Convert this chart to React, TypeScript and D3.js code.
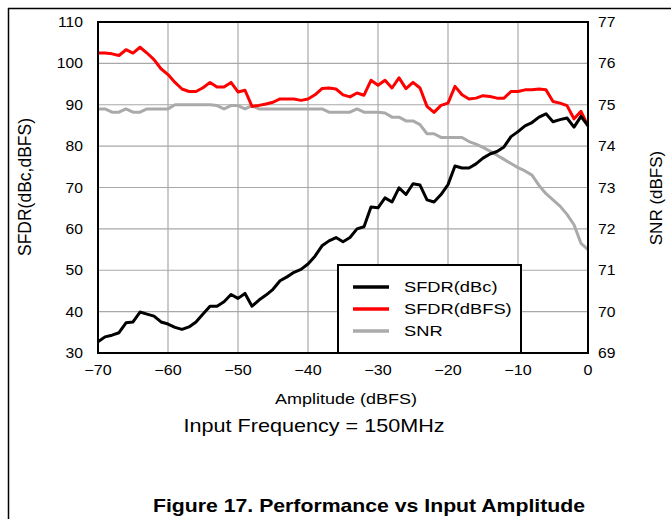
import React from "react";
import * as d3 from "d3";

const amplitude = [
  -70, -69, -68, -67, -66, -65, -64, -63, -62, -61, -60, -59, -58, -57, -56, -55, -54, -53,
  -52, -51, -50, -49, -48, -47, -46, -45, -44, -43, -42, -41, -40, -39, -38, -37, -36, -35,
  -34, -33, -32, -31, -30, -29, -28, -27, -26, -25, -24, -23, -22, -21, -20, -19, -18, -17,
  -16, -15, -14, -13, -12, -11, -10, -9, -8, -7, -6, -5, -4, -3, -2, -1, 0,
];

const sfdrDbc = [
  32.7, 33.9, 34.3, 34.9, 37.3, 37.5, 39.9, 39.4, 38.9, 37.5, 37.0, 36.2, 35.7, 36.3, 37.5, 39.4, 41.3, 41.3,
  42.4, 44.15, 43.2, 44.4, 41.3, 42.8, 44.0, 45.4, 47.45, 48.4, 49.5, 50.2, 51.5, 53.4, 55.9, 57.1, 57.9, 56.9,
  57.9, 60.0, 60.5, 65.3, 65.1, 67.5, 66.5, 69.9, 68.3, 70.9, 70.6, 67.0, 66.5, 68.3, 70.7, 75.2, 74.7, 74.7,
  75.7, 77.1, 78.1, 78.7, 79.8, 82.3, 83.5, 84.9, 85.7, 87.0, 87.8, 85.9, 86.4, 86.8, 84.6, 87.2, 84.9,
];

const sfdrDbfs = [
  102.5, 102.5, 102.3, 101.9, 103.3, 102.5, 103.9, 102.5, 100.9, 98.7, 97.3, 95.4, 93.8, 93.2, 93.2, 94.1, 95.4, 94.3,
  94.3, 95.4, 93.1, 93.5, 89.6, 89.85, 90.2, 90.6, 91.4, 91.4, 91.4, 91.05, 91.4, 92.4, 93.9, 94.05, 93.8, 92.4,
  91.9, 92.85, 92.3, 95.9, 94.7, 95.9, 94.05, 96.5, 93.9, 95.4, 94.05, 89.6, 88.15, 89.85, 90.4, 94.45, 92.4, 91.4,
  91.6, 92.2, 92.0, 91.6, 91.6, 93.2, 93.2, 93.6, 93.6, 93.8, 93.6, 90.8, 90.4, 89.8, 86.6, 88.4, 84.9,
];

const snr = [
  74.9, 74.9, 74.82, 74.82, 74.9, 74.82, 74.82, 74.9, 74.9, 74.9, 74.9, 75.0, 75.0, 75.0, 75.0, 75.0, 75.0, 74.98,
  74.9, 74.98, 74.98, 74.9, 74.98, 74.9, 74.9, 74.9, 74.9, 74.9, 74.9, 74.9, 74.9, 74.9, 74.9, 74.82, 74.82, 74.82,
  74.82, 74.9, 74.82, 74.82, 74.82, 74.8, 74.7, 74.7, 74.61, 74.61, 74.52, 74.3, 74.3, 74.21, 74.21, 74.21, 74.21, 74.11,
  74.05, 73.97, 73.88, 73.78, 73.68, 73.58, 73.48, 73.4, 73.3, 73.05, 72.85, 72.7, 72.55, 72.35, 72.1, 71.65, 71.5,
];

const xTicks = [-70, -60, -50, -40, -30, -20, -10, 0];
const yLeftTicks = [30, 40, 50, 60, 70, 80, 90, 100, 110];
const yRightTicks = [69, 70, 71, 72, 73, 74, 75, 76, 77];

const seriesNames = ["SFDR(dBc)", "SFDR(dBFS)", "SNR"];
const seriesColors = ["#000000", "#ff0000", "#aaaaaa"];

const FONT = "Arial, 'Liberation Sans', sans-serif";
const SX = 1.2;

function T(props: any) {
  const { x, y, anchor = "start", size = 14, weight = "normal", rotate = 0, sx = SX, children } = props;
  const tr = `translate(${x},${y}) scale(${sx},1)` + (rotate ? ` rotate(${rotate})` : "");
  return (
    <text transform={tr} textAnchor={anchor} fontSize={size} fontWeight={weight} fontFamily={FONT} fill="#000">
      {children}
    </text>
  );
}

export default function App() {
  const W = 671;
  const H = 519;
  const left = 98, right = 588, top = 22, bottom = 353;
  const x = d3.scaleLinear().domain([-70, 0]).range([left, right]);
  const yL = d3.scaleLinear().domain([30, 110]).range([bottom, top]);
  const yR = d3.scaleLinear().domain([69, 77]).range([bottom, top]);

  const lineL = d3
    .line<number>()
    .x((_, i) => x(amplitude[i]))
    .y((d) => yL(d));
  const lineR = d3
    .line<number>()
    .x((_, i) => x(amplitude[i]))
    .y((d) => yR(d));

  const fmt = (v: number) => (v < 0 ? "\u2212" + Math.abs(v) : String(v));

  const legX = 338, legY = 265, legW = 183, legH = 88;

  return (
    <div style={{ position: "absolute", left: 0, top: 0 }}>
      <svg width={W} height={H} style={{ display: "block", background: "#fff" }}>
        <rect x={0} y={0} width={W} height={H} fill="#fff" />
        {/* page frame */}
        <line x1={8} y1={8.5} x2={W} y2={8.5} stroke="#000" strokeWidth={1.5} />
        <line x1={8.5} y1={8} x2={8.5} y2={H} stroke="#000" strokeWidth={1.5} />

        {/* grid */}
        {xTicks.map((t) => (
          <line key={"gx" + t} x1={x(t)} x2={x(t)} y1={top} y2={bottom} stroke="#a8a8a8" strokeWidth={1.2} />
        ))}
        {yLeftTicks.map((t) => (
          <line key={"gy" + t} x1={left} x2={right} y1={yL(t)} y2={yL(t)} stroke="#a8a8a8" strokeWidth={1.2} />
        ))}

        {/* series */}
        <path d={lineR(snr) || ""} fill="none" stroke={seriesColors[2]} strokeWidth={3} strokeLinejoin="round" />
        <path d={lineL(sfdrDbfs) || ""} fill="none" stroke={seriesColors[1]} strokeWidth={3} strokeLinejoin="round" />
        <path d={lineL(sfdrDbc) || ""} fill="none" stroke={seriesColors[0]} strokeWidth={3} strokeLinejoin="round" />

        {/* plot border */}
        <rect x={left} y={top} width={right - left} height={bottom - top} fill="none" stroke="#000" strokeWidth={2} />

        {/* tick labels */}
        {yLeftTicks.map((t) => (
          <T key={"yl" + t} x={83} y={yL(t) + 5} anchor="end" size={14} sx={1.12}>
            {t}
          </T>
        ))}
        {yRightTicks.map((t) => (
          <T key={"yr" + t} x={598} y={yR(t) + 5} anchor="start" size={14} sx={1.12}>
            {t}
          </T>
        ))}
        {xTicks.map((t) => (
          <T key={"xt" + t} x={x(t)} y={375} anchor="middle" size={14} sx={1.15}>
            {fmt(t)}
          </T>
        ))}

        {/* axis titles */}
        <T x={346} y={404} anchor="middle" size={15}>Amplitude (dBFS)</T>
        <T x={31} y={187} anchor="middle" size={17.5} rotate={-90} sx={1}>SFDR(dBc,dBFS)</T>
        <T x={662} y={198} anchor="middle" size={17} rotate={-90} sx={1}>SNR (dBFS)</T>

        <T x={314} y={432} anchor="middle" size={18}>Input Frequency = 150MHz</T>
        <T x={369} y={512} anchor="middle" size={18} weight="bold" sx={1.18}>Figure 17. Performance vs Input Amplitude</T>

        {/* legend */}
        <rect x={legX} y={legY} width={legW} height={legH} fill="#fff" stroke="#000" strokeWidth={2} />
        {seriesNames.map((n, i) => (
          <g key={n}>
            <line
              x1={353}
              x2={389}
              y1={287 + i * 22}
              y2={287 + i * 22}
              stroke={seriesColors[i]}
              strokeWidth={3.5}
            />
            <T x={404} y={292 + i * 22} anchor="start" size={15} sx={1.22}>
              {n}
            </T>
          </g>
        ))}
      </svg>
    </div>
  );
}
